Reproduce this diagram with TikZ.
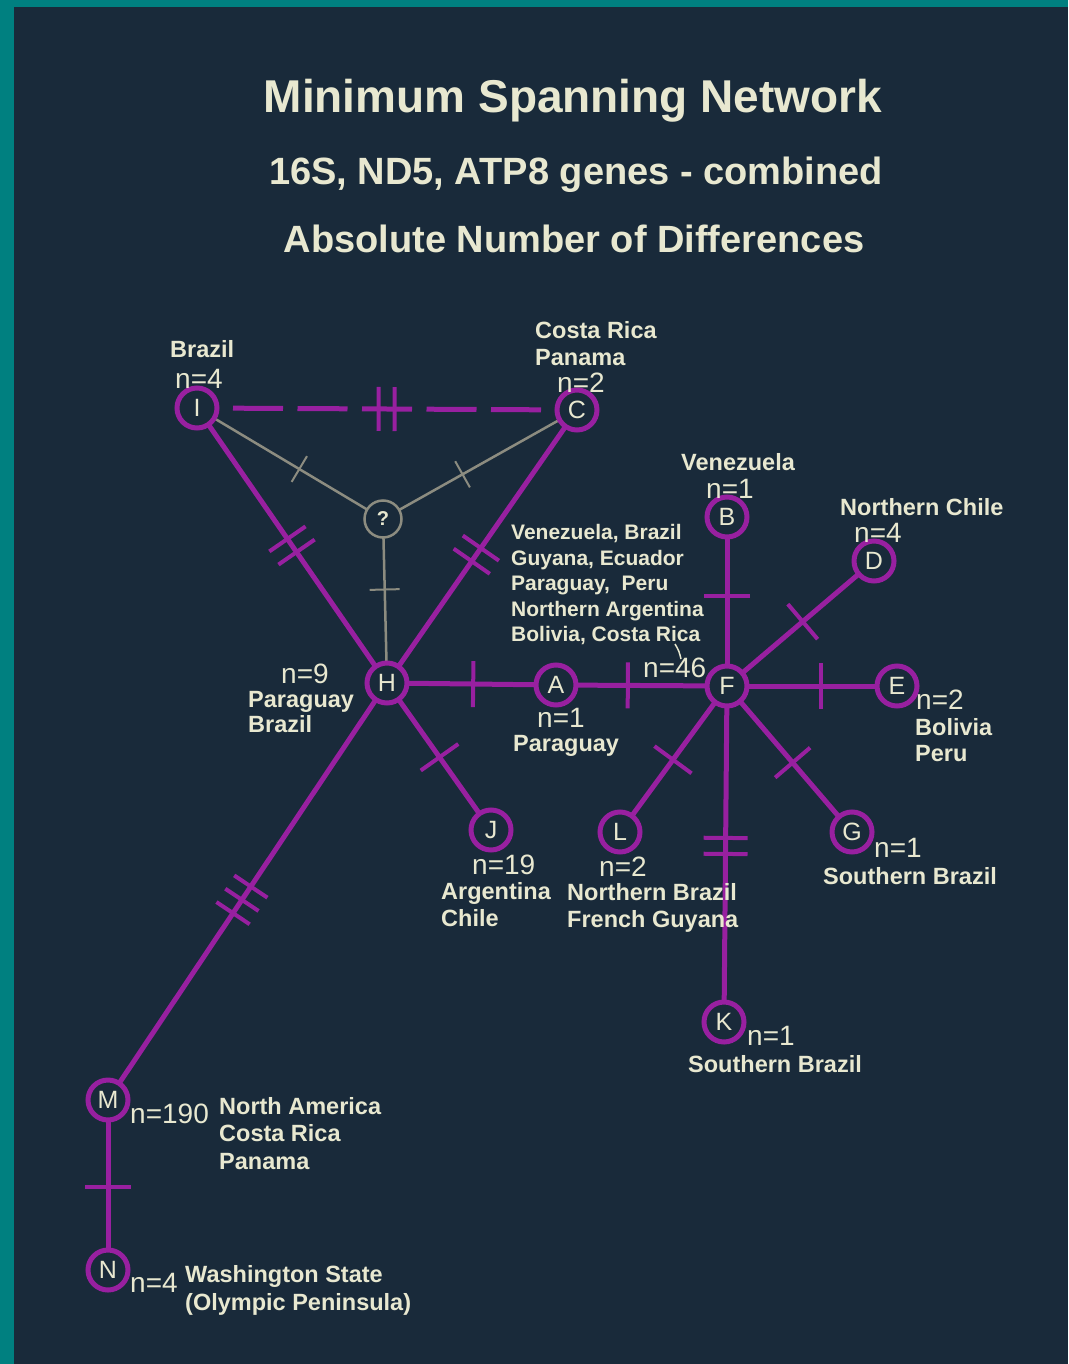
\documentclass[tikz,border=0pt]{standalone}
\usepackage{fontspec}
\setmainfont{Liberation Sans}
\usetikzlibrary{backgrounds,decorations.markings}
\definecolor{bgnavy}{RGB}{25,42,58}
\definecolor{tealedge}{RGB}{0,128,128}
\definecolor{mag}{RGB}{152,32,160}
\definecolor{greyline}{RGB}{140,140,128}
\definecolor{cream}{RGB}{232,232,208}
\begin{document}
\begin{tikzpicture}[x=1pt,y=-1pt,
  hap/.style={circle, draw=mag, line width=5pt, fill=bgnavy, minimum size=40pt, inner sep=0pt, text=cream, font=\fontsize{25}{28}\selectfont},
  qnode/.style={circle, draw=greyline, line width=2.5pt, fill=bgnavy, minimum size=37pt, inner sep=0pt, text=cream, font=\bfseries\fontsize{20}{22}\selectfont},
  edge/.style={draw=mag, line width=5pt},
  gedge/.style={draw=greyline, line width=2.5pt},
  tickm/.style={draw=mag, line width=4pt, solid},
  gtickm/.style={draw=greyline, line width=2pt, solid},
  onetick/.style={postaction={decorate, decoration={markings, mark=at position #1 with {\draw[tickm] (0pt,-23pt) -- (0pt,23pt);}}}},
  twoticks/.style={postaction={decorate, decoration={markings, mark=at position #1 with {\draw[tickm] (-8pt,-22pt) -- (-8pt,22pt) (8pt,-22pt) -- (8pt,22pt);}}}},
  threeticks/.style={postaction={decorate, decoration={markings, mark=at position #1 with {\draw[tickm] (-16pt,-20pt) -- (-16pt,20pt) (0pt,-20pt) -- (0pt,20pt) (16pt,-20pt) -- (16pt,20pt);}}}},
  gtick/.style={postaction={decorate, decoration={markings, mark=at position #1 with {\draw[gtickm] (0pt,-15pt) -- (0pt,15pt);}}}},
  lbl/.style={anchor=base west, inner sep=0pt, text=cream, font=\bfseries\fontsize{23.5}{27}\selectfont},
  glbl/.style={anchor=base west, inner sep=0pt, text=cream, font=\bfseries\fontsize{21}{25}\selectfont},
  nlbl/.style={anchor=base west, inner sep=0pt, text=cream, font=\fontsize{28}{30}\selectfont},
  ttl/.style={anchor=base, inner sep=0pt, text=cream, font=\bfseries\fontsize{#1}{#1}\selectfont}
]
\useasboundingbox (0,0) rectangle (1068,1364);

% title
\node[ttl=46] (t1) at (573,113) {Minimum Spanning Network};
\node[ttl=38] (t2) at (576,185) {16S, ND5, ATP8 genes - combined};
\node[ttl=38] (t3) at (574,252) {Absolute Number of Differences};

% haplotype nodes
\node[hap] (I) at (197,408) {I};
\node[hap] (C) at (577,410) {C};
\node[qnode] (Q) at (383,519) {?};
\node[hap] (H) at (387,683) {H};
\node[hap] (A) at (556,685) {A};
\node[hap] (F) at (727,686) {F};
\node[hap] (B) at (727,517) {B};
\node[hap] (D) at (874,561) {D};
\node[hap] (E) at (897,686) {E};
\node[hap] (G) at (852,832) {G};
\node[hap] (K) at (724,1022) {K};
\node[hap] (L) at (620,832) {L};
\node[hap] (J) at (491,830) {J};
\node[hap] (M) at (108,1100) {M};
\node[hap] (N) at (108,1270) {N};

% connectors
\begin{scope}[on background layer]
\fill[tealedge] (0,0) rectangle (1068,1364);
\fill[bgnavy] (14,7) rectangle (1068,1364);
\draw[gedge, gtick=0.55] (I.center) -- (Q.center);
\draw[gedge, gtick=0.59] (C.center) -- (Q.center);
\draw[gedge, gtick=0.43] (Q.center) -- (H.center);
\draw[edge, dash pattern=on 50pt off 14.5pt, dash phase=28.5pt, twoticks=0.499] (I.center) -- (C.center);
\draw[edge, twoticks=0.5] (I.center) -- (H.center);
\draw[edge, twoticks=0.53] (C.center) -- (H.center);
\draw[edge, onetick=0.51] (H.center) -- (A.center);
\draw[edge, onetick=0.42] (A.center) -- (F.center);
\draw[edge, onetick=0.53] (F.center) -- (B.center);
\draw[edge, onetick=0.515] (F.center) -- (D.center);
\draw[edge, onetick=0.55] (F.center) -- (E.center);
\draw[edge, onetick=0.505] (F.center) -- (L.center);
\draw[edge, onetick=0.525] (F.center) -- (G.center);
\draw[edge, twoticks=0.476] (F.center) -- (K.center);
\draw[edge, onetick=0.505] (H.center) -- (J.center);
\draw[edge, threeticks=0.52] (H.center) -- (M.center);
\draw[edge, onetick=0.51] (M.center) -- (N.center);
\end{scope}

% labels
\node[lbl] (lI1) at (170,357) {Brazil};
\node[nlbl] (lI2) at (175,388) {n=4};
\node[lbl] (lC1) at (535,338) {Costa Rica};
\node[lbl] (lC2) at (535,365) {Panama};
\node[nlbl] (lC3) at (557,392) {n=2};
\node[lbl] (lB1) at (681,470) {Venezuela};
\node[nlbl] (lB2) at (706,498) {n=1};
\node[lbl] (lD1) at (840,515) {Northern Chile};
\node[nlbl] (lD2) at (854,542) {n=4};

\node[glbl] (lF1) at (511,539) {Venezuela, Brazil};
\node[glbl] (lF2) at (511,565) {Guyana, Ecuador};
\node[glbl] (lF3) at (511,590) {Paraguay,\ \ Peru};
\node[glbl] (lF4) at (511,616) {Northern Argentina};
\node[glbl] (lF5) at (511,641) {Bolivia, Costa Rica};
\node[nlbl] (lF6) at (643,677) {n=46};
\coordinate (p1) at (675,644);
\coordinate (p2) at (679,651);
\coordinate (p3) at (681,659);
\draw[cream, line width=1.5pt] (p1) .. controls (p2) .. (p3);

\node[nlbl] (lH1) at (281,683) {n=9};
\node[lbl] (lH2) at (248,707) {Paraguay};
\node[lbl] (lH3) at (248,732) {Brazil};
\node[nlbl] (lA1) at (537,727) {n=1};
\node[lbl] (lA2) at (513,751) {Paraguay};
\node[nlbl] (lE1) at (916,709) {n=2};
\node[lbl] (lE2) at (915,735) {Bolivia};
\node[lbl] (lE3) at (915,761) {Peru};
\node[nlbl] (lG1) at (874,857) {n=1};
\node[lbl] (lG2) at (823,884) {Southern Brazil};
\node[nlbl] (lJ1) at (472,874) {n=19};
\node[lbl] (lJ2) at (441,899) {Argentina};
\node[lbl] (lJ3) at (441,926) {Chile};
\node[nlbl] (lL1) at (599,876) {n=2};
\node[lbl] (lL2) at (567,900) {Northern Brazil};
\node[lbl] (lL3) at (567,927) {French Guyana};
\node[nlbl] (lK1) at (747,1045) {n=1};
\node[lbl] (lK2) at (688,1072) {Southern Brazil};
\node[nlbl] (lM1) at (130,1123) {n=190};
\node[lbl] (lM2) at (219,1114) {North America};
\node[lbl] (lM3) at (219,1141) {Costa Rica};
\node[lbl] (lM4) at (219,1169) {Panama};
\node[nlbl] (lN1) at (130,1292) {n=4};
\node[lbl] (lN2) at (185,1282) {Washington State};
\node[lbl] (lN3) at (185,1310) {(Olympic Peninsula)};
\end{tikzpicture}
\end{document}
